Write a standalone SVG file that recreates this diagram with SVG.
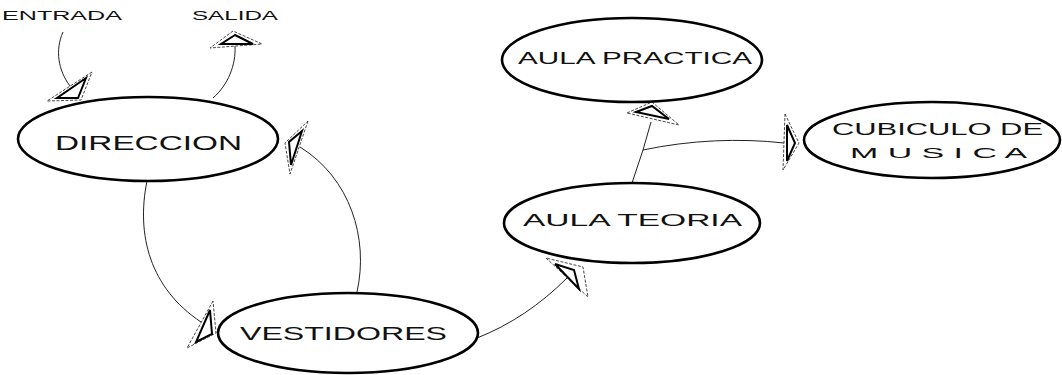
<svg xmlns="http://www.w3.org/2000/svg" width="1062" height="375" viewBox="0 0 1062 375">
<style>
.node ellipse{fill:#fff;stroke:#000;stroke-width:2.6}
.lbl{font-family:"Liberation Sans",Arial,sans-serif;fill:#111;text-anchor:start}
.conn path{fill:none;stroke:#222;stroke-width:1}
.ao{fill:none;stroke:#333;stroke-width:0.9;stroke-dasharray:3 1.5}
.ai{fill:none;stroke:#000;stroke-width:2}
</style>
<rect width="1062" height="375" fill="#fff"/>
<g id="connectors" class="conn">
  <path d="M63,32 C55,50 58,70 70,86"/>
  <path d="M213,98 C228,85 236,65 235,46"/>
  <path d="M147,181 C136,235 150,288 201,322"/>
  <path d="M357,292 C369,238 350,178 300,147"/>
  <path d="M477,338 C510,325 540,305 567,278"/>
  <path d="M632,183 L643,150 L651,122"/>
  <path d="M643,150 C690,140 740,138 784,143"/>
  <g id="arrow-entrada"><polygon class="ao" points="92,72 47,101 81,100"/><polygon class="ai" points="86,78 57,98 78,98"/></g>
  <g id="arrow-salida"><polygon class="ao" points="233,31 210,48 262,44"/><polygon class="ai" points="235,35 221,44 253,44"/></g>
  <g id="arrow-vestidores"><polygon class="ao" points="213,301 187,348 216,333"/><polygon class="ai" points="210,310 196,342 212,334"/></g>
  <g id="arrow-direccion"><polygon class="ao" points="308,121 290,174 285,143"/><polygon class="ai" points="302,131 291,165 289,142"/></g>
  <g id="arrow-teoria"><polygon class="ao" points="546,258 588,297 583,267"/><polygon class="ai" points="555,264 579,289 574,270"/></g>
  <g id="arrow-practica"><polygon class="ao" points="627,113 652,102 679,125"/><polygon class="ai" points="636,112 652,106 669,119"/></g>
  <g id="arrow-cubiculo"><polygon class="ao" points="785,114 799,143 783,170"/><polygon class="ai" points="787,125 795,143 787,161"/></g>
</g>
<g id="entrada"><text class="lbl" x="2" y="20" font-size="13" textLength="120" lengthAdjust="spacingAndGlyphs">ENTRADA</text></g>
<g id="salida"><text class="lbl" x="192" y="20" font-size="13" textLength="86" lengthAdjust="spacingAndGlyphs">SALIDA</text></g>
<g id="direccion" class="node">
  <ellipse cx="148" cy="139" rx="130" ry="42"/>
  <text class="lbl" x="55" y="150" font-size="20" textLength="187" lengthAdjust="spacingAndGlyphs">DIRECCION</text>
</g>
<g id="vestidores" class="node">
  <ellipse cx="348" cy="333" rx="130" ry="40"/>
  <text class="lbl" x="240" y="340" font-size="18" textLength="207" lengthAdjust="spacingAndGlyphs">VESTIDORES</text>
</g>
<g id="aula-teoria" class="node">
  <ellipse cx="632" cy="223" rx="128" ry="40"/>
  <text class="lbl" x="523" y="226" font-size="16" textLength="219" lengthAdjust="spacingAndGlyphs">AULA TEORIA</text>
</g>
<g id="aula-practica" class="node">
  <ellipse cx="632" cy="60" rx="130" ry="42"/>
  <text class="lbl" x="518" y="64" font-size="16" textLength="234" lengthAdjust="spacingAndGlyphs">AULA PRACTICA</text>
</g>
<g id="cubiculo-musica" class="node">
  <ellipse cx="932" cy="140" rx="128" ry="38"/>
  <text class="lbl" x="832" y="135" font-size="16" textLength="211" lengthAdjust="spacingAndGlyphs">CUBICULO DE</text>
  <text class="lbl" x="850" y="158" font-size="14" textLength="177" lengthAdjust="spacingAndGlyphs">M U S I C A</text>
</g>
</svg>
